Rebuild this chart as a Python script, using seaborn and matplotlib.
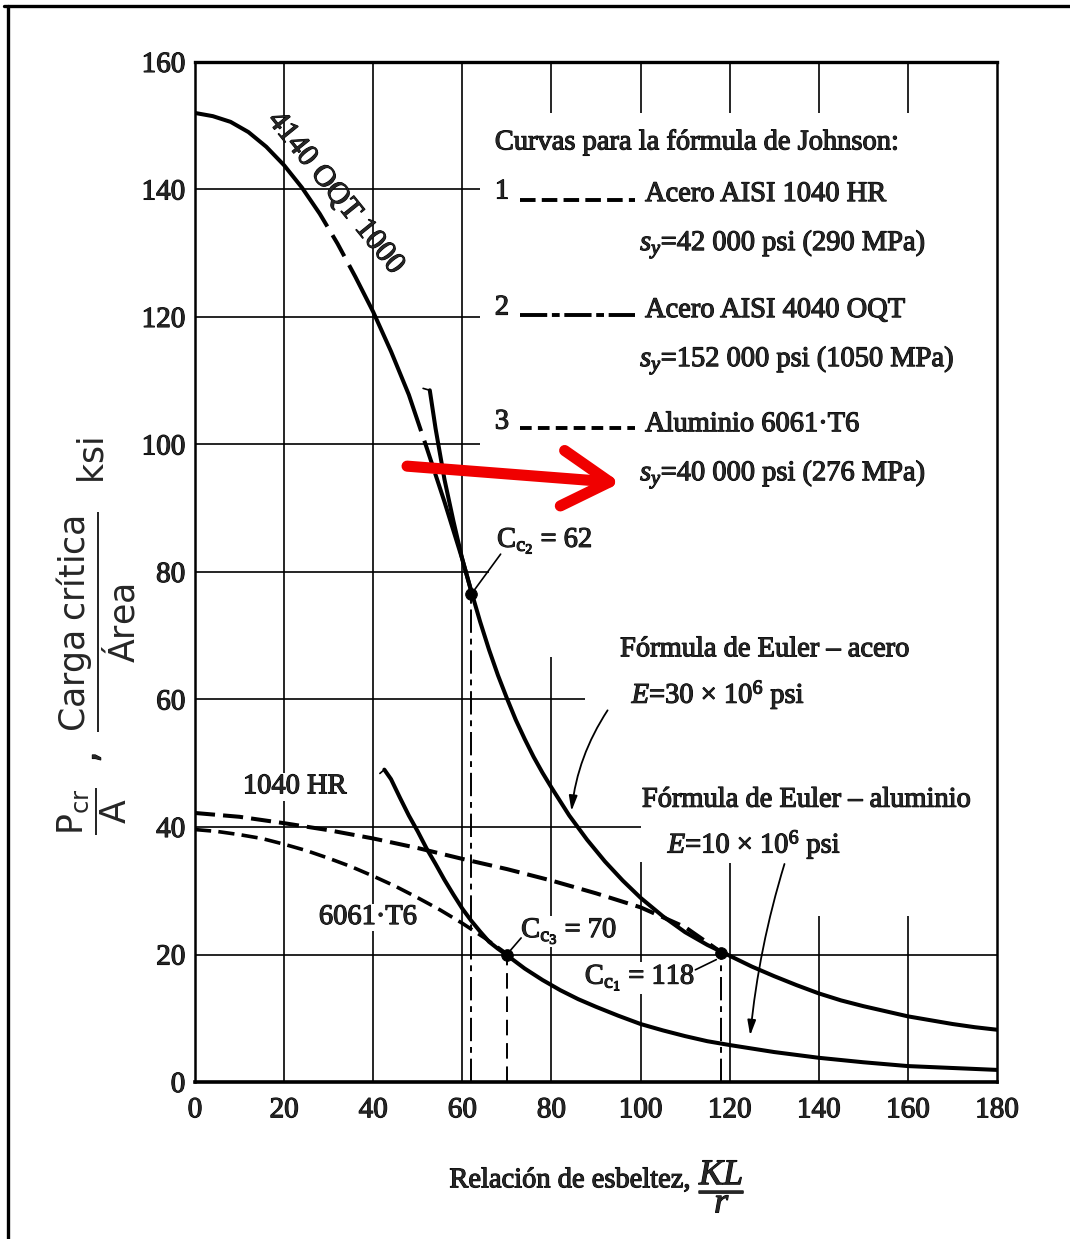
import matplotlib
matplotlib.use("Agg")
import matplotlib.pyplot as plt
from matplotlib.lines import Line2D
from matplotlib import patheffects as pe
import seaborn as sns

# Valores: relacion de esbeltez KL/r y Pcr/A en ksi
kl_4140 = [0, 4, 8, 12, 16, 20, 24, 28, 32, 36, 40, 44, 48, 52, 56, 60, 62]
p_4140 = [152, 151.5, 150.6, 149, 146.7, 143.8, 140.3, 136.2, 131.5, 126.3, 120.8, 114.6, 107.8, 99.5, 91, 82, 77]

kl_1040 = [0, 10, 20, 30, 40, 50, 60, 70, 80, 90, 100, 110, 118]
p_1040 = [42.2, 41.6, 40.6, 39.5, 38.2, 36.7, 35.0, 33.4, 31.6, 29.6, 27.4, 24.3, 20.4]

kl_6061 = [0, 5, 10, 15, 20, 25, 30, 35, 40, 45, 50, 55, 60, 65, 70]
p_6061 = [39.6, 39.3, 38.8, 38.2, 37.3, 36.3, 35.1, 33.8, 32.3, 30.7, 28.9, 27, 24.9, 22.6, 20.1]

kl_euler_acero = [52.7, 54, 56, 58, 60, 62, 64, 66, 68, 70, 72, 74, 76, 78, 80, 84, 88, 92, 96, 100,
                  105, 110, 115, 120, 125, 130, 135, 140, 145, 150, 155, 160, 165, 170, 175, 180]
p_euler_acero = [108.5, 102.5, 94.5, 88, 82, 77, 72.2, 67.8, 63.8, 60.2, 56.8, 53.8, 51, 48.5, 46.2, 41.8,
                 38, 34.6, 31.6, 28.9, 26, 23.5, 21.5, 19.8, 18.1, 16.6, 15.2, 13.9, 12.8, 11.9, 11.1,
                 10.3, 9.7, 9.1, 8.6, 8.2]

kl_euler_alu = [42.5, 44, 46, 48, 50, 52, 54, 56, 58, 60, 62, 64, 66, 68, 70, 74, 78, 82, 86, 90,
                95, 100, 105, 110, 115, 120, 130, 140, 150, 160, 170, 180]
p_euler_alu = [49, 47.5, 44.6, 41.8, 39.3, 36.6, 34.2, 31.7, 29.4, 27.2, 25.3, 23.6, 22, 20.9, 19.9,
               17.8, 16, 14.4, 13, 11.8, 10.4, 9.1, 8.1, 7.2, 6.4, 5.8, 4.7, 3.8, 3.1, 2.5, 2.2, 1.9]

# Constantes de columna Cc y su punto de tangencia
cc_x = [62, 70, 118]
cc_y = [76.5, 20, 20.3]

xticks = [0, 20, 40, 60, 80, 100, 120, 140, 160, 180]
yticks = [0, 20, 40, 60, 80, 100, 120, 140, 160]

sns.set_style("white")
plt.rcParams['font.family'] = ['Liberation Serif', 'DejaVu Serif']
plt.rcParams['mathtext.fontset'] = 'custom'
plt.rcParams['mathtext.rm'] = 'Liberation Serif'
plt.rcParams['mathtext.it'] = 'Liberation Serif:italic'
plt.rcParams['mathtext.bf'] = 'Liberation Serif:bold'
plt.rcParams['mathtext.sf'] = 'DejaVu Sans'

grueso = [pe.withStroke(linewidth=0.8, foreground='black')]

fig = plt.figure(figsize=(10.7, 12.39), dpi=100)
ax = fig.add_axes([0.1822, 0.1267, 0.7496, 0.8233])
ax.set_xlim(0, 180)
ax.set_ylim(0, 160)

# marco exterior del recorte
fig.add_artist(Line2D([0.0075, 0.0075], [0, 0.995], color='black', lw=2.4))
fig.add_artist(Line2D([0.004, 1.0], [0.995, 0.995], color='black', lw=2.4))

# rejilla parcial (como en el libro)
g = dict(color='black', lw=1.2, zorder=1)
ax.hlines(140, 0, 64, **g)
ax.hlines(120, 0, 64, **g)
ax.hlines(100, 0, 64, **g)
ax.hlines(80, 0, 66, **g)
ax.hlines(60, 0, 87.5, **g)
ax.hlines(40, 0, 100, **g)
ax.hlines(20, 0, 180, **g)
for xv in [20, 40, 60]:
    ax.vlines(xv, 0, 160, **g)
for xv in [80, 100, 120, 140, 160]:
    ax.vlines(xv, 152, 160, **g)
ax.vlines(80, 0, 66.7, **g)
ax.vlines(100, 0, 34.5, **g)
ax.vlines(120, 0, 34.3, **g)
ax.vlines(140, 0, 26, **g)
ax.vlines(160, 0, 26, **g)

for side, w in [('top', 2.4), ('bottom', 2.6), ('left', 1.8), ('right', 1.8)]:
    ax.spines[side].set_linewidth(w)
    ax.spines[side].set_color('black')

# curvas
sns.lineplot(x=kl_euler_acero, y=p_euler_acero, ax=ax, color='black', lw=2.9, sort=False, zorder=5)
sns.lineplot(x=kl_euler_alu, y=p_euler_alu, ax=ax, color='black', lw=2.9, sort=False, zorder=5)
sns.lineplot(x=kl_4140, y=p_4140, ax=ax, color='black', lw=2.9, sort=False, zorder=5)
ax.lines[-1].set_linestyle((0, (45, 2.5, 6, 2.5)))
sns.lineplot(x=kl_1040, y=p_1040, ax=ax, color='black', lw=2.9, sort=False, zorder=5)
ax.lines[-1].set_linestyle((0, (5, 2)))
sns.lineplot(x=kl_6061, y=p_6061, ax=ax, color='black', lw=2.6, sort=False, zorder=5)
ax.lines[-1].set_linestyle((0, (4.5, 2)))
for ln in ax.lines[-5:]:
    ln.set_solid_capstyle('round')

# pequenos trazos al inicio de las curvas de Euler
ax.plot([51.2, 52.7], [108.8, 108.5], color='black', lw=1.2, zorder=5)
ax.plot([41.5, 42.5], [48.4, 49], color='black', lw=1.2, zorder=5)

# lineas verticales en Cc
ax.vlines(cc_x[0], 0, cc_y[0], color='black', lw=1.4, linestyles=[(0, (12, 3, 3, 3))], zorder=3)
ax.vlines(cc_x[1], 0, cc_y[1], color='black', lw=1.4, linestyles=[(0, (8, 4))], zorder=3)
ax.vlines(cc_x[2], 0, cc_y[2], color='black', lw=1.4, linestyles=[(0, (12, 3, 3, 3))], zorder=3)
sns.scatterplot(x=cc_x, y=cc_y, ax=ax, color='black', s=70, zorder=6, edgecolor='black')

# ejes
ax.set_xticks(xticks)
ax.set_yticks(yticks)
ax.tick_params(length=0, labelsize=21)
ax.tick_params(axis='x', pad=11)
ax.tick_params(axis='y', pad=7)
ax.set_xlabel('')
ax.set_ylabel('')
for lab in ax.get_xticklabels() + ax.get_yticklabels():
    lab.set_path_effects(grueso)

# titulos de ejes
fig.text(0.645, 0.047, 'Relación de esbeltez,', ha='right', va='center', fontsize=20.5, path_effects=grueso)
fig.text(0.675, 0.043, r'$\dfrac{KL}{r}$', ha='center', va='center', fontsize=26, path_effects=grueso)
fig.text(0.086, 0.345, r'$\dfrac{\mathsf{P_{cr}}}{\mathsf{A}}$', rotation=90, ha='center', va='center', fontsize=25)
fig.text(0.081, 0.389, ',', rotation=90, ha='center', va='center', fontsize=25, family='DejaVu Sans',
         path_effects=grueso)
fig.text(0.090, 0.498, r'$\dfrac{\mathsf{Carga\ crítica}}{\mathsf{Área}}$', rotation=90, ha='center', va='center', fontsize=25)
fig.text(0.089, 0.628, r'$\mathsf{ksi}$', rotation=90, ha='center', va='center', fontsize=25)

FS = 20.5
tk = dict(fontsize=FS, zorder=4, path_effects=grueso)
ax.text(31.5, 139.5, '4140 OQT 1000', rotation=-51, ha='center', va='center', fontsize=22, path_effects=grueso)

ax.text(67.3, 147.3, 'Curvas para la fórmula de Johnson:', ha='left', va='center', **tk)
for num, yn, yl, name, sy, ls in [
        ('1', 139.6, 138.4, 'Acero AISI 1040 HR', r'$s_y$=42 000 psi (290 MPa)', (0, (4, 1.6))),
        ('2', 121.4, 120.3, 'Acero AISI 4040 OQT', r'$s_y$=152 000 psi (1050 MPa)', (0, (7, 1.2, 2, 1.2))),
        ('3', 103.5, 102.6, 'Aluminio 6061·T6', r'$s_y$=40 000 psi (276 MPa)', (0, (3, 1.6)))]:
    ax.text(67.3, yn, num, ha='left', va='center', **tk)
    ax.plot([72.9, 98.7], [yl, yl], color='black', lw=2.8, linestyle=ls)
    ax.text(101, yn - 0.4, name, ha='left', va='center', **tk)
    ax.text(99.9, yn - 8.2, sy, ha='left', va='center', **tk)

wb = dict(facecolor='white', edgecolor='none', pad=1)
ax.text(67.8, 84.8, r'C$_{\mathrm{c}_2}$ = 62', ha='left', va='center', bbox=wb, **tk)
ax.plot([62, 68.6], [76.5, 82.8], color='black', lw=1.2, zorder=4)

ax.text(95.4, 67.8, 'Fórmula de Euler – acero', ha='left', va='center', **tk)
ax.text(98, 60.7, r'$E$=30 × 10$^6$ psi', ha='left', va='center', **tk)
ax.text(100.3, 44.2, 'Fórmula de Euler – aluminio', ha='left', va='center', **tk)
ax.text(106.1, 37.2, r'$E$=10 × 10$^6$ psi', ha='left', va='center', **tk)

ax.annotate('', xy=(84.5, 42.5), xytext=(92.6, 58.3),
            arrowprops=dict(arrowstyle='-|>,head_length=0.9,head_width=0.25', color='black', lw=1.3,
                            connectionstyle='arc3,rad=0.12', shrinkA=0, shrinkB=0), zorder=6)
ax.annotate('', xy=(124.6, 7.3), xytext=(132.3, 34.2),
            arrowprops=dict(arrowstyle='-|>,head_length=0.9,head_width=0.25', color='black', lw=1.3,
                            connectionstyle='arc3,rad=0.05', shrinkA=0, shrinkB=0), zorder=6)

ax.text(22.4, 46.3, '1040 HR', ha='center', va='center', bbox=wb, **tk)
ax.text(38.8, 25.8, '6061·T6', ha='center', va='center', bbox=wb, **tk)
ax.text(73.2, 23.6, r'C$_{\mathrm{c}_3}$ = 70', ha='left', va='center', bbox=wb, **tk)
ax.plot([70, 73.2], [20, 22.6], color='black', lw=1.2, zorder=4)
ax.text(87.5, 16.3, r'C$_{\mathrm{c}_1}$ = 118', ha='left', va='center', bbox=wb, **tk)
ax.plot([112.3, 117.0], [17.6, 19.2], color='black', lw=1.2, zorder=4)

# flecha roja de resaltado
ax.annotate('', xy=(95.5, 94.0), xytext=(47.6, 96.6),
            arrowprops=dict(arrowstyle='->,head_length=1.7,head_width=1.0', color='#f00000', lw=8,
                            mutation_scale=20, shrinkA=0, shrinkB=0, capstyle='round', joinstyle='round'),
            zorder=7)

plt.savefig('out.png', dpi=100)
plt.close()
